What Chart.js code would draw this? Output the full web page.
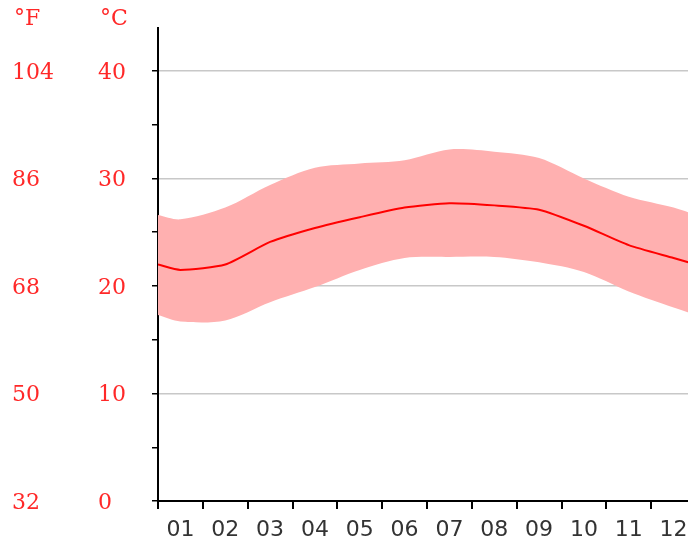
<!DOCTYPE html>
<html>
<head>
<meta charset="utf-8">
<script src="https://cdn.jsdelivr.net/npm/chart.js@4"></script>
<style>
  html, body { margin: 0; padding: 0; background: #fff; overflow: hidden; }
  #wrap { width: 700px; height: 539px; }
</style>
</head>
<body>
<div id="wrap"><canvas id="climate"></canvas></div>
<script>
const months = ['01', '02', '03', '04', '05', '06', '07', '08', '09', '10', '11', '12'];
// monthly temperatures in °C
const tMean = [21.5, 22.0, 24.1, 25.4, 26.4, 27.3, 27.7, 27.5, 27.1, 25.6, 23.8, 22.6];
const tMax = [26.2, 27.3, 29.4, 31.0, 31.4, 31.7, 32.7, 32.5, 31.9, 30.0, 28.3, 27.3];
const tMin = [16.7, 16.8, 18.5, 19.9, 21.5, 22.6, 22.7, 22.7, 22.2, 21.3, 19.5, 18.0];
// values at the year boundary (left/right edge of the plot)
const edgeMean = 22.0;
const edgeMax = 26.6;
const edgeMin = 17.3;
const celsiusTicks = [0, 10, 20, 30, 40];
const fahrenheitTicks = [32, 50, 68, 86, 104];

const RED = 'rgb(255, 40, 40)';

// month i sits at the middle of its slot on a 0..12 axis
const toPoints = (vals, edge) =>
  [{ x: 0, y: edge }, ...vals.map((v, i) => ({ x: i + 0.5, y: v })), { x: 12, y: edge }];

const unitHeaders = {
  id: 'unitHeaders',
  afterDraw(chart) {
    const ctx = chart.ctx;
    ctx.save();
    ctx.font = '22px "DejaVu Serif"';
    ctx.fillStyle = RED;
    ctx.textBaseline = 'middle';
    ctx.fillText('°F', chart.scales.yF.left + 2, 19);
    ctx.fillText('°C', chart.scales.yC.left + 2, 19);
    ctx.restore();
  }
};

new Chart(document.getElementById('climate'), {
  type: 'line',
  data: {
    labels: months,
    datasets: [
      {
        label: 'max',
        data: toPoints(tMax, edgeMax),
        borderWidth: 0,
        pointRadius: 0,
        tension: 0.3,
        backgroundColor: '#ffb0b0',
        fill: '+1',
        yAxisID: 'yC',
        order: 2
      },
      {
        label: 'min',
        data: toPoints(tMin, edgeMin),
        borderWidth: 0,
        pointRadius: 0,
        tension: 0.3,
        fill: false,
        yAxisID: 'yC',
        order: 2
      },
      {
        label: 'mean',
        data: toPoints(tMean, edgeMean),
        borderColor: '#ff0000',
        borderWidth: 2,
        pointRadius: 0,
        tension: 0.2,
        fill: false,
        yAxisID: 'yC',
        order: 1
      }
    ]
  },
  options: {
    responsive: true,
    maintainAspectRatio: false,
    animation: false,
    layout: { padding: { left: 12, top: 28, right: 4, bottom: 0 } },
    plugins: { legend: { display: false }, tooltip: { enabled: false } },
    scales: {
      x: {
        type: 'linear',
        position: 'bottom',
        weight: 0,
        min: 0,
        max: 12,
        ticks: { display: false, stepSize: 1 },
        grid: { drawOnChartArea: false, color: '#000', lineWidth: 2, tickLength: 8 },
        border: { color: '#000', width: 2 }
      },
      xm: {
        type: 'category',
        position: 'bottom',
        weight: 1,
        offset: true,
        grid: { display: false },
        border: { display: false },
        ticks: {
          color: '#333',
          font: { family: 'DejaVu Sans', size: 22 },
          padding: 0,
          maxRotation: 0,
          autoSkip: false
        },
        afterFit(scale) { scale.height = 30; }
      },
      yC: {
        type: 'linear',
        position: 'left',
        weight: 0,
        min: 0,
        max: 44,
        ticks: {
          stepSize: 5,
          includeBounds: false,
          color: RED,
          crossAlign: 'far',
          labelOffset: 2,
          font: { family: 'DejaVu Serif', size: 22 },
          callback: v => celsiusTicks.includes(v) ? v : ''
        },
        grid: {
          color: c => c.tick && c.tick.value > 0 && celsiusTicks.includes(c.tick.value) ? '#c8c8c8' : 'rgba(0,0,0,0)',
          lineWidth: 1.5,
          tickColor: '#000',
          tickLength: 6,
          tickWidth: 1.5
        },
        border: { color: '#000', width: 2 },
        afterFit(scale) { scale.width = 60; }
      },
      yF: {
        type: 'linear',
        position: 'left',
        weight: 1,
        min: 32,
        max: 32 + 44 * 1.8,
        afterBuildTicks(scale) { scale.ticks = fahrenheitTicks.map(v => ({ value: v })); },
        ticks: {
          color: RED,
          crossAlign: 'far',
          labelOffset: 2,
          font: { family: 'DejaVu Serif', size: 22 }
        },
        grid: { display: false },
        border: { display: false },
        afterFit(scale) { scale.width = 86; }
      }
    }
  },
  plugins: [unitHeaders]
});
</script>
</body>
</html>
